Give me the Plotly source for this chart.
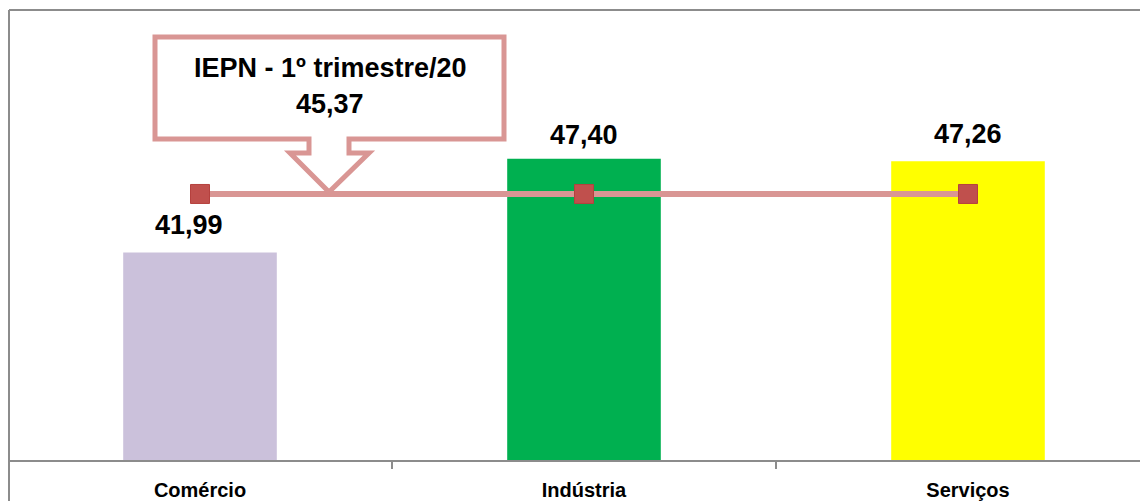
import plotly.graph_objects as go

# ---- data ----
categories = ["Comércio", "Indústria", "Serviços"]
values = [41.99, 47.40, 47.26]
value_labels = ["41,99", "47,40", "47,26"]
iepn_value = 45.37
iepn_label = "45,37"
callout_title = "IEPN - 1º trimestre/20"
chart_title = "Gráfico 2: IEPN, por setor de atuação da empresa - 1º trimestre/20"

# ---- style ----
bar_colors = ["#CBC1DB", "#00B050", "#FFFF00"]
line_color = "#D99694"
marker_color = "#C0504D"
frame_color = "#8C8C8C"
txt_font = "Liberation Sans, Arial, sans-serif"

PAGE_OFF = 8           # default body margin of the html page
W, H = 1140, 493
ML, MR, MT, MB = 0, 0, 2, 41
PW, PH = W - ML - MR, H - MT - MB
CAT_PX = 384
Y_MIN, Y_MAX = 30, 56


def px2paper(px, py):
    """page pixel -> paper coordinates"""
    fx, fy = px - PAGE_OFF, py - PAGE_OFF
    return (fx - ML) / PW, (H - MB - fy) / PH


fig = go.Figure()
fig.add_trace(go.Bar(
    x=categories, y=values, width=0.4,
    marker=dict(color=bar_colors, line=dict(width=0)),
    hoverinfo="skip", showlegend=False,
))
fig.add_trace(go.Scatter(
    x=categories, y=[iepn_value] * len(categories), mode="lines+markers",
    line=dict(color=line_color, width=6),
    marker=dict(symbol="square", size=19, color=marker_color,
                line=dict(color="#B5413E", width=1)),
    hoverinfo="skip", showlegend=False,
))

# value labels above bars
label_shift = [(-11, 27), (0, 24), (0, 27)]
for cat, v, lab, (dx, dy) in zip(categories, values, value_labels, label_shift):
    fig.add_annotation(x=cat, y=v, text=lab, showarrow=False, xanchor="center",
                       yanchor="middle", xshift=dx, yshift=dy,
                       font=dict(family=txt_font, size=27, color="#000000", weight="bold"))

# callout box with arrow pointing at the IEPN line
pts = [(155, 37), (504, 37), (504, 139), (349, 139), (349, 153), (369, 153),
       (329, 192), (290, 153), (309, 153), (309, 139), (155, 139)]
path = ""
for i, (px, py) in enumerate(pts):
    xp, yp = px2paper(px, py)
    path += ("M" if i == 0 else "L") + f"{xp:.5f},{yp:.5f} "
path += "Z"
fig.add_shape(type="path", path=path, xref="paper", yref="paper",
              line=dict(color=line_color, width=5), fillcolor="white", layer="above")
cx, cy1 = px2paper(330, 68)
_, cy2 = px2paper(330, 104)
fig.add_annotation(x=cx, y=cy1, xref="paper", yref="paper", text=callout_title,
                   showarrow=False, xanchor="center", yanchor="middle",
                   font=dict(family=txt_font, size=27, color="#000000", weight="bold"))
fig.add_annotation(x=cx, y=cy2, xref="paper", yref="paper", text=iepn_label,
                   showarrow=False, xanchor="center", yanchor="middle",
                   font=dict(family=txt_font, size=27, color="#000000", weight="bold"))

# chart frame (top and left border)
x0, y0 = px2paper(9, 10)
x1, _ = px2paper(1160, 10)
fig.add_shape(type="line", xref="paper", yref="paper", x0=x0, y0=y0, x1=x1, y1=y0,
              line=dict(color=frame_color, width=2))
_, yb = px2paper(9, 520)
fig.add_shape(type="line", xref="paper", yref="paper", x0=x0, y0=y0, x1=x0, y1=yb,
              line=dict(color=frame_color, width=2))

# title (cut off at the top edge, as in the reference)
tx, ty = px2paper(594, 9)
fig.add_annotation(x=tx, y=ty, xref="paper", yref="paper", text=chart_title,
                   showarrow=False, xanchor="center", yanchor="bottom",
                   font=dict(family=txt_font, size=20, color="#333333"))

fig.update_layout(
    width=W, height=H,
    margin=dict(l=ML, r=MR, t=MT, b=MB, autoexpand=False),
    paper_bgcolor="white", plot_bgcolor="white",
    xaxis=dict(
        type="category", range=[-0.5, -0.5 + PW / CAT_PX],
        showline=True, linecolor=frame_color, linewidth=2,
        ticks="outside", tickson="boundaries", ticklen=7, tickwidth=1.5, tickcolor=frame_color,
        ticklabelstandoff=11,
        showgrid=False, automargin=False,
        tickfont=dict(family=txt_font, size=20, color="#000000", weight="bold"),
    ),
    yaxis=dict(range=[Y_MIN, Y_MAX], visible=False, showgrid=False, zeroline=False),
)

fig.write_html("out.html")
